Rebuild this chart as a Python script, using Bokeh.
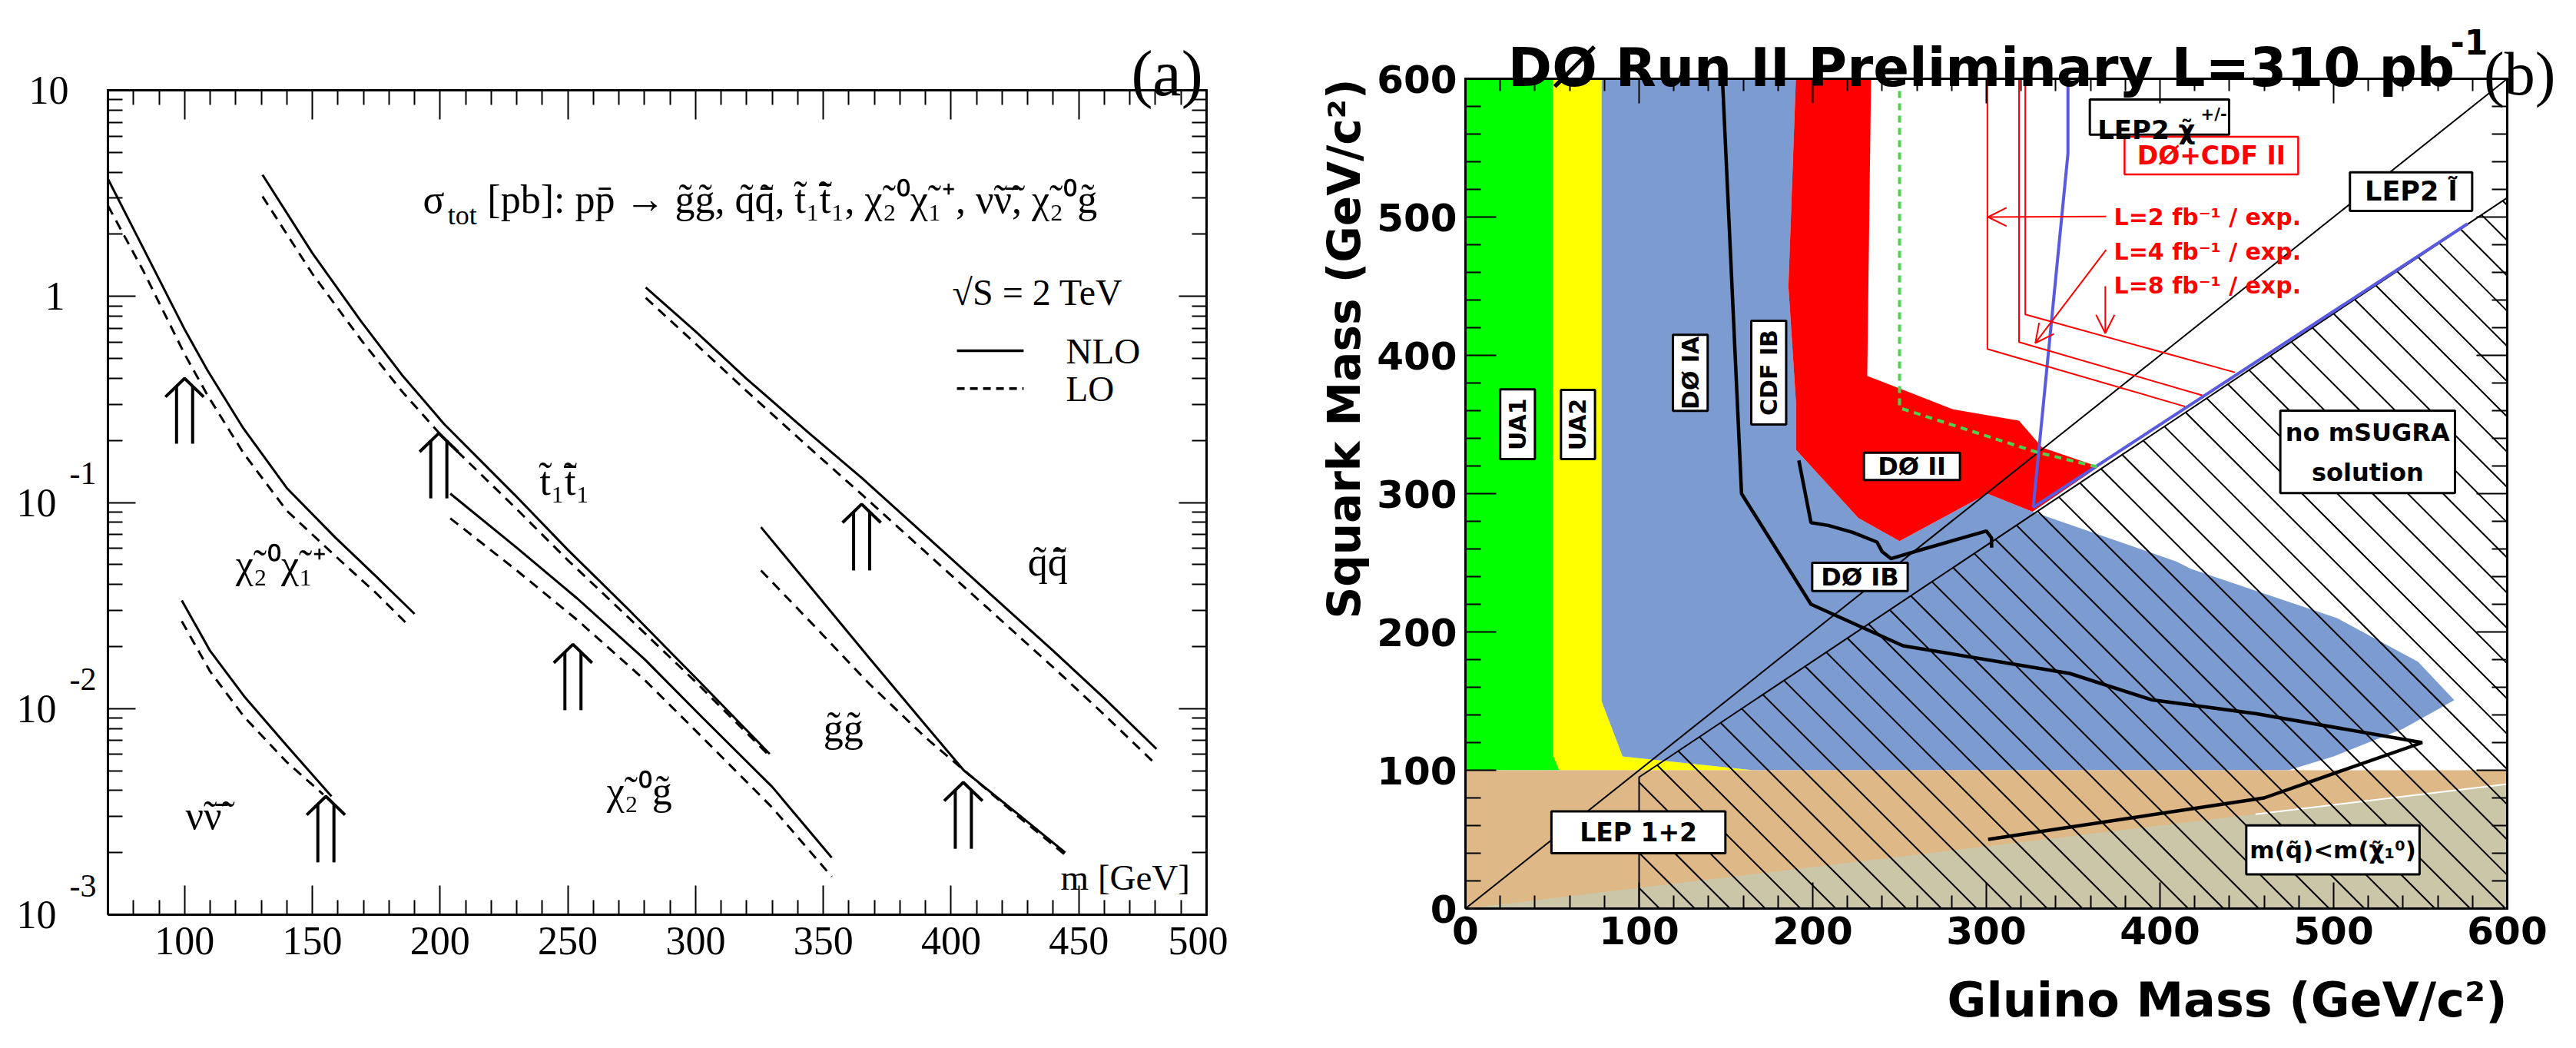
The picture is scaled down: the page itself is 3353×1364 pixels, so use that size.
import numpy as np
from math import pi
from bokeh.plotting import figure
from bokeh.layouts import row
from bokeh.models import Range1d, FixedTicker, LinearAxis, LogAxis, Label, CustomJSTickFormatter
from bokeh.embed import file_html
from bokeh.resources import INLINE

# ================= panel (a) data : sigma_tot [pb] vs mass [GeV] =================
chi_x_nlo = [70, 84, 100, 109, 123, 140, 159, 175, 190]
chi_nlo   = [3.715, 1.698, 0.692, 0.4365, 0.2291, 0.1175, 0.0676, 0.0437, 0.0288]
chi_x_lo  = [70, 84, 100, 109, 123, 140, 159, 175, 188]
chi_lo    = [2.754, 1.318, 0.525, 0.331, 0.174, 0.0912, 0.0550, 0.0363, 0.0251]

stop_x    = [130.5, 150, 169, 185, 201.6, 229, 250, 273, 300, 329]
stop_nlo  = [3.89, 1.622, 0.759, 0.417, 0.240, 0.1096, 0.0589, 0.0309, 0.01413, 0.00603]
stop_lo   = [3.055, 1.288, 0.617, 0.347, 0.204, 0.0955, 0.0525, 0.0282, 0.01349, 0.00589]

chig_x    = [204, 230, 253.7, 280, 302.7, 330, 353.3]
chig_nlo  = [0.1104, 0.0603, 0.0342, 0.01738, 0.00904, 0.00417, 0.00189]
chig_lo   = [0.0838, 0.0468, 0.0269, 0.0138, 0.00724, 0.00331, 0.00153]

sq_x      = [280.5, 300, 320, 345, 365, 390, 415, 440, 460, 480.4]
sq_nlo    = [1.104, 0.676, 0.398, 0.214, 0.1318, 0.0692, 0.0363, 0.01905, 0.01122, 0.00637]
sq_lo     = [0.984, 0.589, 0.347, 0.182, 0.1096, 0.0575, 0.0302, 0.01585, 0.00933, 0.00533]

gl_x_nlo  = [325.6, 345, 368, 390, 405, 425, 444.7]
gl_nlo    = [0.0759, 0.0389, 0.01758, 0.00832, 0.00501, 0.00316, 0.00200]
gl_x_lo   = [325.6, 345, 368, 390, 407, 425, 444.7]
gl_lo     = [0.0468, 0.0263, 0.01318, 0.00724, 0.00479, 0.00309, 0.00195]

snu_x_nlo = [98.9, 110, 123.3, 140, 157.5]
snu_nlo   = [0.0335, 0.01905, 0.01148, 0.00661, 0.00375]
snu_x_lo  = [98.9, 110, 123.3, 140, 154.3]
snu_lo    = [0.02655, 0.01514, 0.00912, 0.0055, 0.00383]

# mass-limit arrows (double arrows)
arrow_x    = [100, 199.5, 252, 365, 155.3, 404.8]
arrow_base = [0.1928, 0.1047, 0.00982, 0.0468, 0.001795, 0.002089]
arrow_tip  = [0.3999, 0.2168, 0.0205, 0.0982, 0.00375, 0.004385]

a_xticks = [100, 150, 200, 250, 300, 350, 400, 450, 500]
a_yticks = [1e-3, 1e-2, 1e-1, 1, 10]
a_ytick_base = ["10", "10", "10", "1", "10"]
a_ytick_exp  = ["-3", "-2", "-1", "", ""]

proc_text = ["t\u0303\u2081t\u0303\u0304\u2081", "\u03c7\u0303\u2082\u2070\u03c7\u0303\u2081\u207a",
             "q\u0303q\u0303\u0304", "g\u0303g\u0303", "\u03c7\u0303\u2082\u2070g\u0303", "\u03bd\u0303\u03bd\u0303\u0304"]
proc_x = [239, 120, 430, 350, 265.2, 100.4]
proc_y = [0.127, 0.05, 0.0515, 0.00805, 0.00398, 0.00302]

# ================= panel (b) data : squark vs gluino mass [GeV/c^2] =================
green_x = [0, 50.4, 50.4, 54, 0]
green_y = [600, 600, 111, 100, 100]
yellow_x = [50.4, 78.4, 78.4, 90.5, 166, 54, 50.4]
yellow_y = [600, 600, 150, 110, 100, 100, 111]
blue_x = [78.4, 190.3, 186, 190.4, 190.4, 226.3, 250, 300.6, 326.6, 409.3, 418, 502, 548.6, 569.5, 540, 500, 474, 166, 90.5, 78.4]
blue_y = [600, 600, 450, 365, 331.6, 282.4, 265.7, 300, 287, 251, 245.5, 210, 178.5, 150.7, 130, 110, 100, 100, 110, 150]
red_x = [190.3, 233.6, 231.4, 280.8, 318.8, 332.2, 364.6, 326.6, 300.6, 250, 226.3, 190.4, 190.4, 186]
red_y = [600, 600, 385.2, 361, 352.8, 333.3, 319.4, 287, 300, 265.7, 282.4, 331.6, 365, 450]
lep_x = [0, 600, 600, 0]
lep_y = [0, 0, 100, 100]
lsp_x = [0, 600, 600]
lsp_y = [0, 0, 90]
lsp_edge_x = [455, 600]
lsp_edge_y = [68.2, 90]

d0ia_x = [148, 159, 199, 252, 348, 395, 455, 551, 460, 301]
d0ia_y = [600, 300, 220, 190, 170, 151, 141, 120, 80, 50]
cdfib_x = [192, 199, 209, 223, 237, 240, 245, 264, 300, 303, 303]
cdfib_y = [324, 279, 277, 272, 265, 258, 253, 260, 273, 268, 261]

chargino_x = [347, 347, 327]
chargino_y = [600, 546, 290]
slepton_x = [327, 577]
slepton_y = [290, 495]
nosugra_x = [100, 100, 600]
nosugra_y = [0, 95, 514]
diag_x = [0, 600]
diag_y = [0, 600]
d0cdf_x = [250, 250, 329, 365]
d0cdf_y = [600, 362, 330, 319]

proj_x = [[300.6, 300.6, 414.5], [318.8, 318.8, 424.3], [322.4, 322.4, 443.1]]
proj_y = [[600, 404.6, 363], [600, 409.6, 371.1], [600, 429.6, 387.7]]
proj_text = ["L=2 fb\u207b\u00b9 / exp.", "L=4 fb\u207b\u00b9 / exp.", "L=8 fb\u207b\u00b9 / exp."]
proj_text_y = [500, 475.2, 450.4]
parr_x0 = [369, 369, 368.5]
parr_y0 = [500.4, 476.3, 450]
parr_x1 = [301, 328.2, 368.5]
parr_y1 = [500, 408.9, 416]

# label boxes: left, right, bottom, top, text, rotated
box_l = [20, 55, 119.5, 164.6, 229.5, 199.7, 359.6, 509.4, 469.3, 49.5, 449.7]
box_r = [40, 74.6, 139.5, 184.7, 284.8, 254.7, 439.8, 579.8, 569.9, 149.7, 549.5]
box_b = [325, 325, 359.8, 350, 309.8, 229.6, 559.6, 504.5, 300.4, 40, 24.7]
box_t = [375.4, 375, 414.8, 425, 329.6, 250, 585, 532.3, 360, 70.3, 60.2]
box_text = ["UA1", "UA2", "D\u00d8 IA", "CDF IB", "D\u00d8 II", "D\u00d8 IB", "", "LEP2 l\u0303", "", "LEP 1+2",
            "m(q\u0303)<m(\u03c7\u0303\u2081\u2070)"]
box_rot = [True, True, True, True, False, False, False, False, False, False, False]
box_size = [30, 30, 30, 30, 32, 32, 32, 35, 32, 33, 31]

b_ticks = [0, 100, 200, 300, 400, 500, 600]

# ====================================================================================
SERIF = "Liberation Serif"
SANS = "DejaVu Sans"
NOLABEL = "return ''"


def lab(p, x, y, text, size, font=SERIF, style="normal", align="left", baseline="alphabetic",
        angle=0.0, xo=0, yo=0, color="black"):
    p.add_layout(Label(x=x, y=y, text=text, text_font=font, text_font_style=style,
                       text_font_size=f"{size}px", text_align=align, text_baseline=baseline,
                       angle=angle, x_offset=xo, y_offset=yo, text_color=color))


def make_axis(cls, ticker, loc, bounds, major_in, minor_in, show_labels=False, font=SERIF, size=12,
              style="normal", standoff=10):
    ax = cls(ticker=ticker, fixed_location=loc, bounds=bounds)
    ax.axis_line_color = None
    ax.major_tick_in = major_in
    ax.major_tick_out = 0
    ax.minor_tick_in = minor_in
    ax.minor_tick_out = 0
    ax.major_tick_line_width = 2
    ax.minor_tick_line_width = 2
    ax.major_tick_line_color = "black"
    ax.minor_tick_line_color = "black"
    ax.major_label_text_font = font
    ax.major_label_text_font_size = f"{size}px"
    ax.major_label_text_font_style = style
    ax.major_label_text_color = "black"
    ax.major_label_standoff = standoff
    if not show_labels:
        ax.formatter = CustomJSTickFormatter(code=NOLABEL)
        ax.major_label_standoff = 0
    return ax


def base_fig(w, h, xr, yr, log_y=False):
    p = figure(width=w, height=h, x_range=xr, y_range=yr, y_axis_type="log" if log_y else "linear",
               x_axis_location=None, y_axis_location=None, output_backend="svg", toolbar_location=None,
               min_border_left=0, min_border_right=0, min_border_top=0, min_border_bottom=0)
    p.min_border = 0
    p.outline_line_color = None
    p.background_fill_color = "white"
    p.border_fill_color = "white"
    for g in p.grid:
        g.visible = False
    return p


# ------------------------------- panel (a) -------------------------------
WA, HA = 1598, 1344
A_L, A_R, A_T, A_B = 140, 28, 117, 154          # plot box margins in px
ax_ppu = (WA - A_L - A_R) / (500 - 70)
ay_ppd = (HA - A_T - A_B) / 4.0
pa = base_fig(WA, HA, Range1d(70 - A_L / ax_ppu, 500 + A_R / ax_ppu),
              Range1d(10 ** (-3 - A_B / ay_ppd), 10 ** (1 + A_T / ay_ppd)), log_y=True)

x_minor = [v for v in range(70, 501, 10) if v % 50 != 0]
y_minor = [k * 10.0 ** e for e in range(-3, 1) for k in range(2, 10)]
pa.add_layout(make_axis(LinearAxis, FixedTicker(ticks=a_xticks, minor_ticks=x_minor), 1e-3, (70, 500),
                        38, 19, True, SERIF, 52, "normal", 16), "below")
pa.add_layout(make_axis(LinearAxis, FixedTicker(ticks=a_xticks, minor_ticks=x_minor), 10, (70, 500),
                        38, 19), "above")
pa.add_layout(make_axis(LogAxis, FixedTicker(ticks=a_yticks, minor_ticks=y_minor), 70, (1e-3, 10),
                        36, 19), "left")
pa.add_layout(make_axis(LogAxis, FixedTicker(ticks=a_yticks, minor_ticks=y_minor), 500, (1e-3, 10),
                        36, 19), "right")

for xs, ys in [(chi_x_nlo, chi_nlo), (stop_x, stop_nlo), (chig_x, chig_nlo), (sq_x, sq_nlo),
               (gl_x_nlo, gl_nlo), (snu_x_nlo, snu_nlo)]:
    pa.line(xs, ys, line_color="black", line_width=3)
for xs, ys in [(chi_x_lo, chi_lo), (stop_x, stop_lo), (chig_x, chig_lo), (sq_x, sq_lo),
               (gl_x_lo, gl_lo), (snu_x_lo, snu_lo)]:
    pa.line(xs, ys, line_color="black", line_width=3, line_dash="13 9")

# double arrows
sh_x0, sh_x1, sh_y0, sh_y1 = [], [], [], []
hd_xs, hd_ys = [], []
for ax_, b_, t_ in zip(arrow_x, arrow_base, arrow_tip):
    for dx in (-3.15, 3.15):
        sh_x0.append(ax_ + dx); sh_x1.append(ax_ + dx)
        sh_y0.append(b_); sh_y1.append(t_ * 10 ** -0.035)
    hd_xs.append([ax_ - 7.5, ax_, ax_ + 7.5])
    hd_ys.append([t_ * 10 ** -0.09, t_, t_ * 10 ** -0.09])
pa.segment(sh_x0, sh_y0, sh_x1, sh_y1, line_color="black", line_width=4)
pa.multi_line(hd_xs, hd_ys, line_color="black", line_width=4)

# legend lines
pa.line([402.3, 428.4], [0.5445, 0.5445], line_color="black", line_width=3.5)
pa.line([402.3, 428.4], [0.357, 0.357], line_color="black", line_width=3.5, line_dash="10 7")
lab(pa, 445, 0.5445, "NLO", 47, baseline="middle")
lab(pa, 445, 0.357, "LO", 47, baseline="middle")

# plot box
pa.line([70, 500, 500, 70, 70], [1e-3, 1e-3, 10, 10, 1e-3], line_color="black", line_width=3,
        line_join="miter")

# y tick labels (ROOT style: 10 with exponent)
for v, b_, e_ in zip(a_yticks, a_ytick_base, a_ytick_exp):
    if e_:
        lab(pa, 70, v, b_, 52, align="right", baseline="middle", xo=-67)
        lab(pa, 70, v, e_, 42, align="left", baseline="middle", xo=-50, yo=38)
    else:
        lab(pa, 70, v, b_, 52, align="right", baseline="middle", xo=-51 if b_ == "10" else -56)

# formula and annotations
lab(pa, 193.3, 2.95, "\u03c3", 52)
lab(pa, 203.0, 2.95, "tot", 36, yo=-20)
lab(pa, 218.5, 2.95, "[pb]: pp\u0304 \u2192 g\u0303g\u0303, q\u0303q\u0303\u0304, t\u0303\u2081t\u0303\u0304\u2081, "
                     "\u03c7\u0303\u2082\u2070\u03c7\u0303\u2081\u207a, \u03bd\u0303\u03bd\u0303\u0304, "
                     "\u03c7\u0303\u2082\u2070g\u0303", 52)
lab(pa, 400.5, 1.05, "\u221aS = 2 TeV", 48)
for t_, x_, y_ in zip(proc_text, proc_x, proc_y):
    lab(pa, x_, y_, t_, 52)
lab(pa, 442.9, 0.00151, "m [GeV]", 47)
lab(pa, 470.5, 12.1, "(a)", 84)

# ------------------------------- panel (b) -------------------------------
WB, HB = 1731, 1344
B_L, B_R, B_T, B_B = 309, 66, 102, 162
bx_ppu = (WB - B_L - B_R) / 600.0
by_ppu = (HB - B_T - B_B) / 600.0
pb = base_fig(WB, HB, Range1d(-B_L / bx_ppu, 600 + B_R / bx_ppu), Range1d(-B_B / by_ppu, 600 + B_T / by_ppu))

pb.patch(green_x, green_y, fill_color="#00FF00", line_color=None)
pb.patch(yellow_x, yellow_y, fill_color="#FFFF00", line_color=None)
pb.patch(blue_x, blue_y, fill_color="#7C9BD1", line_color=None)
pb.patch(red_x, red_y, fill_color="#FF0000", line_color=None)
pb.patch(lep_x, lep_y, fill_color="#DEB887", line_color=None)
pb.patch(lsp_x, lsp_y, fill_color="#CCC6A8", line_color=None)
pb.line(lsp_edge_x, lsp_edge_y, line_color="white", line_width=2)

# hatching of the "no mSUGRA solution" region (45 deg in screen space)
m_h = bx_ppu / by_ppu
s_top = (nosugra_y[2] - nosugra_y[1]) / (nosugra_x[2] - nosugra_x[1])
hx0, hy0, hx1, hy1 = [], [], [], []
for c in 599 - 20.3 * np.arange(-22, 27):
    xlo = max(100.0, (m_h * c - nosugra_y[1] + 100 * s_top) / (s_top + m_h))
    xhi = min(600.0, c)
    if xhi > xlo:
        hx0.append(xlo); hy0.append(m_h * (c - xlo)); hx1.append(xhi); hy1.append(m_h * (c - xhi))
pb.segment(hx0, hy0, hx1, hy1, line_color="black", line_width=2)
pb.line(nosugra_x, nosugra_y, line_color="black", line_width=2)
pb.line(diag_x, diag_y, line_color="black", line_width=2)

pb.line(d0ia_x, d0ia_y, line_color="black", line_width=4.5)
pb.line(cdfib_x, cdfib_y, line_color="black", line_width=4.5)
pb.line(chargino_x, chargino_y, line_color="#5A5ADF", line_width=4)
pb.line(slepton_x, slepton_y, line_color="#5A5ADF", line_width=4)
pb.line(d0cdf_x, d0cdf_y, line_color="#50D050", line_width=4, line_dash="9 7")
pb.multi_line(proj_x, proj_y, line_color="#FF0000", line_width=2)

# projection arrows
ax_xs, ax_ys = [], []
for x0, y0, x1, y1 in zip(parr_x0, parr_y0, parr_x1, parr_y1):
    ax_xs.append([x0, x1]); ax_ys.append([y0, y1])
    dx, dy = (x1 - x0) * bx_ppu, (y1 - y0) * by_ppu
    n = (dx * dx + dy * dy) ** 0.5
    ux, uy = dx / n, dy / n
    L_, W_ = 24, 12
    wx1 = x1 + (-L_ * ux - W_ * uy) / bx_ppu
    wy1 = y1 + (-L_ * uy + W_ * ux) / by_ppu
    wx2 = x1 + (-L_ * ux + W_ * uy) / bx_ppu
    wy2 = y1 + (-L_ * uy - W_ * ux) / by_ppu
    ax_xs.append([wx1, x1, wx2]); ax_ys.append([wy1, y1, wy2])
pb.multi_line(ax_xs, ax_ys, line_color="#FF0000", line_width=2)

# label boxes
pb.quad(left=box_l, right=box_r, bottom=box_b, top=box_t, fill_color="white",
        line_color="black", line_width=3)
pb.quad(left=[379.6], right=[479.6], bottom=[530.8], top=[558.1], fill_color="white",
        line_color="#FF0000", line_width=2.5)

# axes (ticks on all four sides)
b_minor = [v for v in range(0, 601, 20) if v % 100 != 0]
pb.add_layout(make_axis(LinearAxis, FixedTicker(ticks=b_ticks, minor_ticks=b_minor), 0, (0, 600),
                        34, 17, True, SANS, 50, "bold", 10), "below")
pb.add_layout(make_axis(LinearAxis, FixedTicker(ticks=b_ticks, minor_ticks=b_minor), 600, (0, 600),
                        32, 16), "above")
pb.add_layout(make_axis(LinearAxis, FixedTicker(ticks=b_ticks, minor_ticks=b_minor), 0, (0, 600),
                        40, 20, True, SANS, 50, "bold", 11), "left")
pb.add_layout(make_axis(LinearAxis, FixedTicker(ticks=b_ticks, minor_ticks=b_minor), 600, (0, 600),
                        40, 20), "right")
pb.line([0, 600, 600, 0, 0], [0, 0, 600, 600, 0], line_color="black", line_width=3, line_join="miter")

for l_, r_, b_, t_, txt, rot, sz in zip(box_l, box_r, box_b, box_t, box_text, box_rot, box_size):
    if txt:
        lab(pb, (l_ + r_) / 2, (b_ + t_) / 2, txt, sz, font=SANS, style="bold", align="center",
            baseline="middle", angle=pi / 2 if rot else 0.0)
lab(pb, 364, 563, "LEP2 \u03c7\u0303", 34, font=SANS, style="bold")
lab(pb, 423.5, 574.4, "+/-", 21, font=SANS, style="bold")
lab(pb, 519.6, 343.9, "no mSUGRA", 32, font=SANS, style="bold", align="center", baseline="middle")
lab(pb, 519.6, 315.3, "solution", 32, font=SANS, style="bold", align="center", baseline="middle")
lab(pb, 429.6, 544.5, "D\u00d8+CDF II", 33, font=SANS, style="bold", align="center", baseline="middle",
    color="#FF0000")
for t_, y_ in zip(proj_text, proj_text_y):
    lab(pb, 373.5, y_, t_, 30, font=SANS, style="bold", baseline="middle", color="#FF0000")

# titles
lab(pb, 24.5, 607.8, "D\u00d8 Run II Preliminary  L=310 pb", 69, font=SANS, style="bold")
lab(pb, 567.3, 626.7, "-1", 44, font=SANS, style="bold")
lab(pb, 586.5, 603.5, "(b)", 80)
lab(pb, 600, -66, "Gluino Mass (GeV/c\u00b2)", 62, font=SANS, style="bold", align="right")
lab(pb, -69.5, 600, "Squark Mass (GeV/c\u00b2)", 58, font=SANS, style="bold", align="right", angle=pi / 2)

layout = row(pa, pb)
open("out.html", "w").write(file_html(layout, INLINE))
